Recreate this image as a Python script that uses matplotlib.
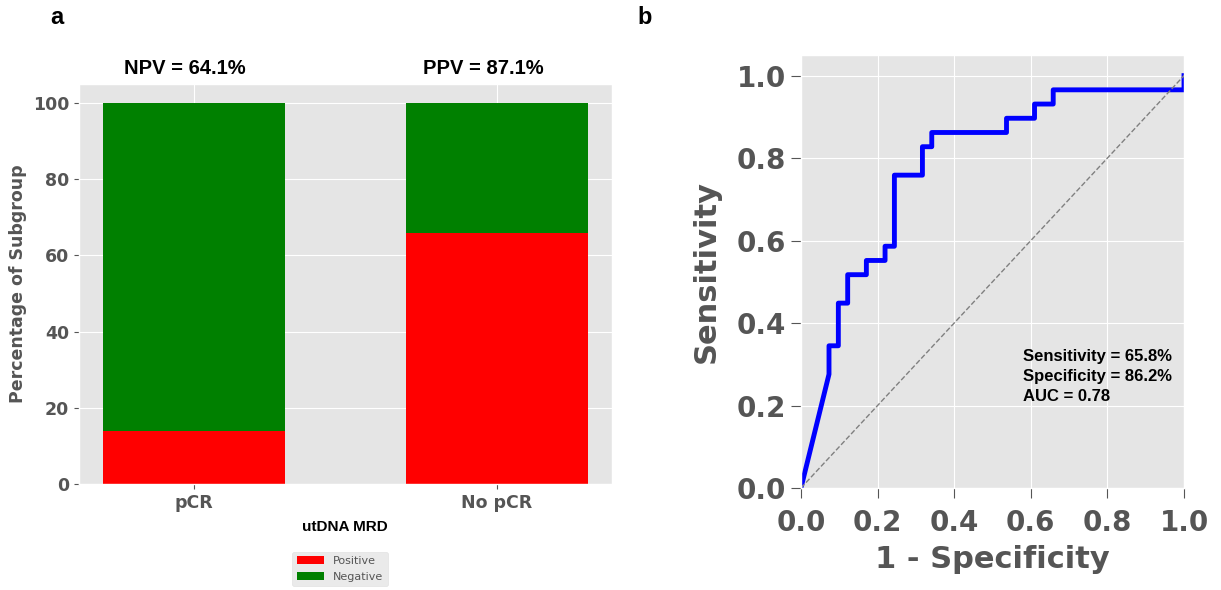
import matplotlib
matplotlib.use("Agg")
import matplotlib.pyplot as plt
import numpy as np

plt.style.use("ggplot")

# ---- data ----
groups = ["pCR", "No pCR"]
positive_pct = [13.8, 65.8]
negative_pct = [86.2, 34.2]
group_titles = ["NPV = 64.1%", "PPV = 87.1%"]

n_pos, n_neg = 29, 41
fpr_counts = [0, 3, 3, 4, 4, 5, 5, 7, 7, 9, 9, 10, 10, 13, 13, 14, 14, 22, 22, 25, 25, 27, 27, 41, 41]
tpr_counts = [0, 8, 10, 10, 13, 13, 15, 15, 16, 16, 17, 17, 22, 22, 24, 24, 25, 25, 26, 26, 27, 27, 28, 28, 29]
roc_text = "Sensitivity = 65.8%\nSpecificity = 86.2%\nAUC = 0.78"

fpr = np.array(fpr_counts) / n_neg
tpr = np.array(tpr_counts) / n_pos

fig = plt.figure(figsize=(12.21, 5.90), dpi=100)
fig.patch.set_facecolor("white")

# ---- panel a ----
ax1 = fig.add_axes([0.0647, 0.1797, 0.4363, 0.6779])
x = np.arange(len(groups))
ax1.bar(x, positive_pct, width=0.6, color="red", label="Positive")
ax1.bar(x, negative_pct, width=0.6, bottom=positive_pct, color="green", label="Negative")
ax1.set_xticks(x)
ax1.set_xticklabels(groups, fontsize=12.5, fontweight="bold", color="#555555")
ax1.set_yticks([0, 20, 40, 60, 80, 100])
ax1.tick_params(axis="y", labelsize=12.5, labelcolor="#555555")
for lab in ax1.get_yticklabels():
    lab.set_fontweight("bold")
ax1.set_ylabel("Percentage of Subgroup", fontsize=12.5, fontweight="bold", color="#555555")
ax1.set_xlabel("utDNA MRD", fontsize=11, fontweight="bold", color="black",
               family="Liberation Sans", labelpad=6)
for xi, t in zip([-0.03, 0.955], group_titles):
    ax1.text(xi, 1.04, t, transform=ax1.get_xaxis_transform(), ha="center", va="center",
             fontsize=14.5, fontweight="bold", family="Liberation Sans", color="black")
leg = ax1.legend(loc="upper center", bbox_to_anchor=(0.49, -0.155), fontsize=8,
                 frameon=True, handlelength=2.5)
leg.get_frame().set_facecolor("#E5E5E5")
leg.get_frame().set_edgecolor("#DDDDDD")
for t in leg.get_texts():
    t.set_color("#555555")

# ---- panel b ----
ax2 = fig.add_axes([0.656, 0.1729, 0.3137, 0.7339])
ax2.plot(fpr, tpr, color="blue", lw=3.5)
ax2.plot([0, 1], [0, 1], color="gray", lw=1, ls="--")
ax2.set_xlim(0, 1)
ax2.set_ylim(0, 1.05)
ticks = [0.0, 0.2, 0.4, 0.6, 0.8, 1.0]
ax2.set_xticks(ticks)
ax2.set_yticks(ticks)
ax2.tick_params(axis="both", labelsize=20, labelcolor="#555555", length=7)
ax2.tick_params(axis="x", pad=8)
for lab in ax2.get_xticklabels() + ax2.get_yticklabels():
    lab.set_fontweight("bold")
ax2.set_xlabel("1 - Specificity", fontsize=22, fontweight="bold", color="#555555", labelpad=6)
ax2.set_ylabel("Sensitivity", fontsize=22, fontweight="bold", color="#555555", labelpad=12)
ax2.text(0.58, 0.337, roc_text, fontsize=12, fontweight="bold", family="Liberation Sans",
         color="black", ha="left", va="top", linespacing=1.4)

# panel letters
fig.text(0.041, 0.97, "a", fontsize=17, fontweight="bold", family="Liberation Sans", va="center")
fig.text(0.522, 0.97, "b", fontsize=17, fontweight="bold", family="Liberation Sans", va="center")

fig.savefig("out.png", dpi=100, facecolor="white")
